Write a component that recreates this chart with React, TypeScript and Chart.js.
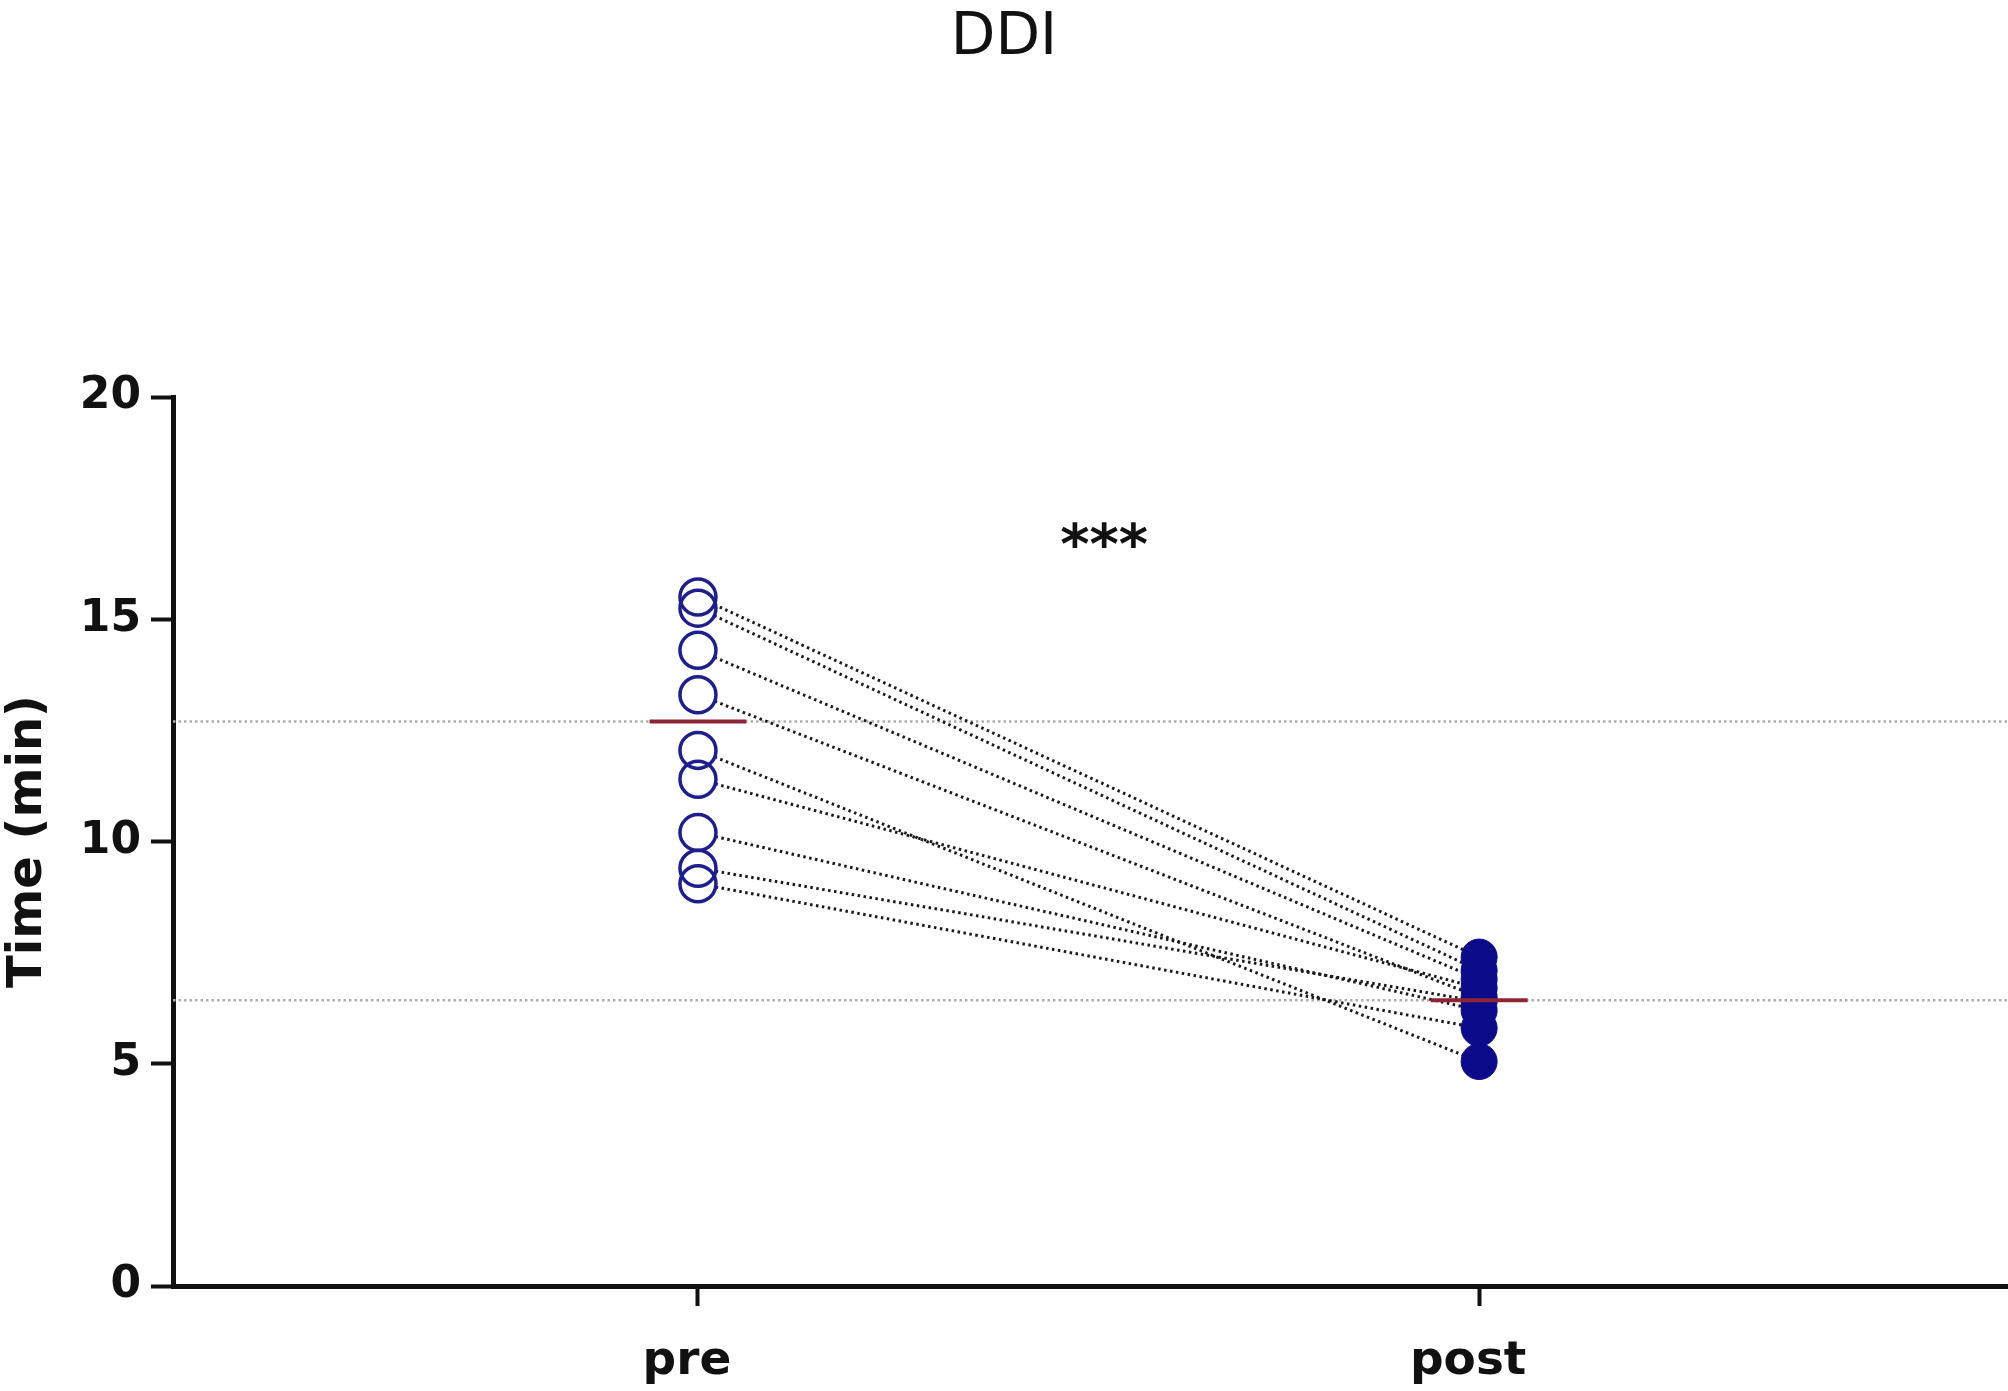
import React, { useEffect, useRef } from "react";
import { Chart, registerables } from "chart.js";

Chart.register(...registerables);

const titleText = "DDI";
const yAxisTitle = "Time (min)";
const categories = ["pre", "post"];
const preValues = [15.5, 15.25, 14.3, 13.3, 12.05, 11.4, 10.2, 9.4, 9.05];
const postValues = [7.4, 7.1, 6.9, 6.5, 5.05, 6.7, 6.2, 6.4, 5.8];
const meanValues = [12.7, 6.43];
const yTicks = [0, 5, 10, 15, 20];
const sigLabel = "***";
const sigPosition = [1.52, 16.9];

const X_MIN = 0.328;
const X_MAX = 2.677;
const MEAN_HALF = 0.062;
const NAVY = "#1e1e8c";
const NAVY_FILL = "#0b0b8a";
const MEAN_RED = "#8e2436";
const TICK_FONT = "'DejaVu Sans', sans-serif";

export default function App() {
  const ref = useRef<HTMLCanvasElement | null>(null);

  useEffect(() => {
    if (!ref.current) return;
    const catX = (i: number) => i + 1;

    const pairLines = preValues.map((p, i) => ({
      type: "scatter" as const,
      label: "pair" + i,
      data: [
        { x: catX(0), y: p },
        { x: catX(1), y: postValues[i] },
      ],
      showLine: true,
      borderColor: "#1a1a1a",
      borderWidth: 3,
      borderDash: [2.5, 3.5],
      pointRadius: 0,
      order: 5,
    }));

    const greyLines = meanValues.map((m, i) => ({
      type: "scatter" as const,
      label: "ref" + i,
      data: [
        { x: X_MIN, y: m },
        { x: X_MAX, y: m },
      ],
      showLine: true,
      borderColor: "#adadad",
      borderWidth: 2.5,
      borderDash: [2.5, 3],
      pointRadius: 0,
      order: 6,
    }));

    const meanLines = meanValues.map((m, i) => ({
      type: "scatter" as const,
      label: "mean" + i,
      data: [
        { x: catX(i) - MEAN_HALF, y: m },
        { x: catX(i) + MEAN_HALF, y: m },
      ],
      showLine: true,
      borderColor: MEAN_RED,
      borderWidth: 4,
      pointRadius: 0,
      order: 0,
    }));

    const preMask = {
      type: "scatter" as const,
      label: "mask",
      data: preValues.map((v) => ({ x: catX(0), y: v })),
      pointRadius: 18,
      pointBackgroundColor: "#ffffff",
      pointBorderWidth: 0,
      pointBorderColor: "rgba(0,0,0,0)",
      order: 3,
    };

    const preOutline = {
      type: "scatter" as const,
      label: categories[0],
      data: preValues.map((v) => ({ x: catX(0), y: v })),
      pointRadius: 18,
      pointBackgroundColor: "rgba(0,0,0,0)",
      pointBorderColor: NAVY,
      pointBorderWidth: 3.5,
      order: 1,
    };

    const postDots = {
      type: "scatter" as const,
      label: categories[1],
      data: postValues.map((v) => ({ x: catX(1), y: v })),
      pointRadius: 18,
      pointBackgroundColor: NAVY_FILL,
      pointBorderColor: NAVY_FILL,
      pointBorderWidth: 1,
      order: 2,
    };

    const sigPlugin = {
      id: "sigText",
      afterDatasetsDraw(chart: any) {
        const { ctx, scales } = chart;
        const px = scales.x.getPixelForValue(sigPosition[0]);
        const py = scales.y.getPixelForValue(sigPosition[1]);
        ctx.save();
        ctx.font = "bold 56px " + TICK_FONT;
        ctx.fillStyle = "#111";
        ctx.textAlign = "center";
        ctx.textBaseline = "alphabetic";
        const m = ctx.measureText(sigLabel);
        const asc = m.actualBoundingBoxAscent;
        const desc = m.actualBoundingBoxDescent;
        ctx.fillText(sigLabel, px, py + (asc - desc) / 2);
        ctx.restore();
      },
    };

    const chart = new Chart(ref.current, {
      type: "scatter",
      data: {
        datasets: [
          preOutline,
          postDots,
          preMask,
          ...meanLines,
          ...pairLines,
          ...greyLines,
        ] as any,
      },
      options: {
        responsive: false,
        animation: false,
        devicePixelRatio: 1,
        layout: { padding: 0, autoPadding: false },
        plugins: {
          legend: { display: false },
          tooltip: { enabled: false },
          title: {
            display: true,
            text: titleText,
            color: "#111",
            font: { family: TICK_FONT, size: 58, weight: "normal", lineHeight: 1.2 },
            padding: { top: 4, bottom: 323.4 },
          },
        },
        scales: {
          x: {
            type: "linear",
            min: X_MIN,
            max: X_MAX,
            afterBuildTicks: (scale: any) => {
              scale.ticks = categories.map((_, i) => ({ value: catX(i) }));
            },
            afterFit: (scale: any) => {
              scale.height = 105;
            },
            ticks: {
              color: "#111",
              padding: 28,
              labelOffset: -11,
              font: { family: TICK_FONT, size: 47, weight: "bold" },
              callback: (v: any) => {
                const idx = Math.round(Number(v)) - 1;
                return categories[idx] ?? "";
              },
            },
            grid: {
              display: true,
              drawOnChartArea: false,
              drawTicks: true,
              tickLength: 20,
              tickWidth: 4,
              tickColor: "#111",
            },
            border: { display: true, color: "#111", width: 5 },
          },
          y: {
            type: "linear",
            min: 0,
            max: 20,
            afterBuildTicks: (scale: any) => {
              scale.ticks = yTicks.map((v) => ({ value: v }));
            },
            afterFit: (scale: any) => {
              scale.width = 173;
            },
            ticks: {
              color: "#111",
              padding: 10,
              font: { family: TICK_FONT, size: 44, weight: "bold" },
            },
            grid: {
              display: true,
              drawOnChartArea: false,
              drawTicks: true,
              tickLength: 22,
              tickWidth: 4,
              tickColor: "#111",
            },
            border: { display: true, color: "#111", width: 5 },
            title: {
              display: true,
              text: yAxisTitle,
              color: "#111",
              font: { family: TICK_FONT, size: 48, weight: "bold", lineHeight: 1.2 },
              padding: { top: 0, bottom: 0 },
            },
          },
        },
      },
      plugins: [sigPlugin],
    });
    return () => chart.destroy();
  }, []);

  return (
    <div style={{ position: "absolute", left: 0, top: 0, width: 2008, height: 1391, background: "#fff" }}>
      <canvas ref={ref} width={2008} height={1391} style={{ width: 2008, height: 1391, display: "block" }} />
    </div>
  );
}
